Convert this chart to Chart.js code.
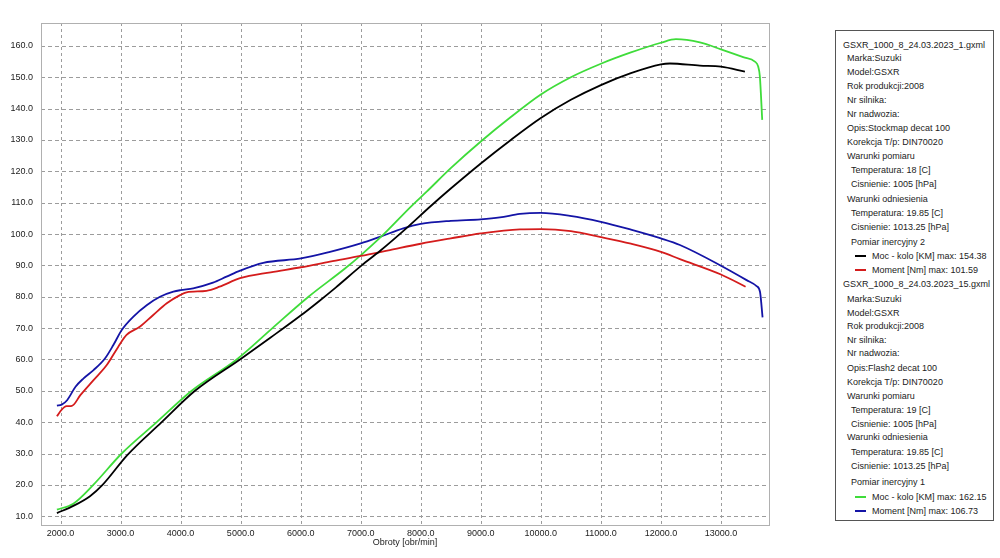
<!DOCTYPE html>
<html>
<head>
<meta charset="utf-8">
<script src="https://cdn.jsdelivr.net/npm/chart.js@4"></script>
<style>
  html, body { margin:0; padding:0; background:#fff; }
  body { width:1000px; height:558px; position:relative; overflow:hidden; font-family:"Liberation Sans", Arial, sans-serif; }
  #wrap { position:absolute; left:0; top:0; width:800px; height:558px; }
  #legend { position:absolute; left:835px; top:30px; width:159px; height:491px; border:1px solid #555; box-sizing:border-box; }
  .row { position:absolute; font-size:9px; color:#222; white-space:nowrap; line-height:12px; }
  .sw { position:absolute; height:2px; width:11px; }
</style>
</head>
<body>
<div id="wrap"><canvas id="c"></canvas></div>
<div id="legend"></div>
<script>
// ---- data ----
const xTicks = [2000,3000,4000,5000,6000,7000,8000,9000,10000,11000,12000,13000];
const yTicks = [10,20,30,40,50,60,70,80,90,100,110,120,130,140,150,160];

const rpmPower1 = [1940,2213,2491,2700,3112,3685,4240,4989,5500,6000,6300,6588,7016,7320,7787,8153,8500,9000,9500,10000,10500,11000,11500,12000,12150,12649,13000,13399];
const power1    = [11.0,13.3,16.4,20.0,29.5,40.0,50.0,60.0,67.0,74.0,78.5,83.0,90.0,94.6,102.3,108.7,114.5,122.5,130.0,137.0,142.8,147.5,151.3,154.1,154.38,153.7,153.4,151.8];

const rpmTorque1 = [1940,2020,2100,2190,2330,2550,2770,2960,3100,3320,3540,3770,3990,4100,4430,4650,4990,5500,6005,6488,7000,7487,8000,8500,9000,9651,10000,10500,11000,11500,12000,12316,13000,13410];
const torque1    = [41.9,44.0,45.1,45.2,48.6,53.4,58.2,64.0,67.8,70.4,74.1,77.9,80.5,81.4,81.9,83.2,85.9,87.8,89.4,91.2,93.0,94.9,96.9,98.6,100.2,101.5,101.59,100.9,99.0,96.9,94.3,92.0,87.1,83.2];

const rpmPower2 = [1940,2213,2546,3019,3602,4185,4934,5530,6130,6738,7000,7349,7849,8098,8500,9000,9500,10000,10500,11000,11500,12000,12250,12649,13000,13370,13565,13620,13648,13687];
const power2    = [12.1,14.0,20.0,30.0,40.0,50.0,60.0,70.0,80.0,89.0,93.2,99.3,109.0,113.5,121.0,129.5,137.3,144.5,150.0,154.3,157.9,161.0,162.15,161.1,158.9,156.4,155.0,153.4,150.2,136.4];

const rpmTorque2 = [1940,2020,2110,2250,2380,2550,2740,2880,3020,3210,3435,3657,3880,4000,4210,4540,4765,4990,5377,6005,6488,7000,7320,7709,8000,8500,9000,9318,9651,10000,10485,11000,11500,12000,12316,13000,13427,13593,13650,13693];
const torque2    = [45.3,45.6,47.0,51.3,53.9,56.6,60.3,64.6,69.4,73.6,77.3,80.0,81.6,82.1,82.7,84.5,86.4,88.3,90.8,92.2,94.3,97.0,99.1,101.8,103.2,104.2,104.7,105.3,106.4,106.73,105.8,103.9,101.4,98.6,96.5,89.9,85.3,83.4,81.6,73.4];

const legendRows = [
  [45,843,"GSXR_1000_8_24.03.2023_1.gxml"],
  [58,847,"Marka:Suzuki"],
  [72,847,"Model:GSXR"],
  [86,847,"Rok produkcji:2008"],
  [100,847,"Nr silnika:"],
  [114,847,"Nr nadwozia:"],
  [128,847,"Opis:Stockmap decat 100"],
  [142,847,"Korekcja T/p: DIN70020"],
  [156,847,"Warunki pomiaru"],
  [170,851,"Temperatura: 18 [C]"],
  [184,851,"Cisnienie: 1005 [hPa]"],
  [199,847,"Warunki odniesienia"],
  [213,851,"Temperatura: 19.85 [C]"],
  [227,851,"Cisnienie: 1013.25 [hPa]"],
  [242,851,"Pomiar inercyjny 2"],
  [256,872,"Moc - kolo [KM] max: 154.38","#000"],
  [270,872,"Moment [Nm] max: 101.59","#d41c1c"],
  [284,843,"GSXR_1000_8_24.03.2023_15.gxml"],
  [299,847,"Marka:Suzuki"],
  [313,847,"Model:GSXR"],
  [326,847,"Rok produkcji:2008"],
  [340,847,"Nr silnika:"],
  [353,847,"Nr nadwozia:"],
  [368,847,"Opis:Flash2 decat 100"],
  [382,847,"Korekcja T/p: DIN70020"],
  [396,847,"Warunki pomiaru"],
  [410,851,"Temperatura: 19 [C]"],
  [424,851,"Cisnienie: 1005 [hPa]"],
  [437,847,"Warunki odniesienia"],
  [452,851,"Temperatura: 19.85 [C]"],
  [466,851,"Cisnienie: 1013.25 [hPa]"],
  [482,851,"Pomiar inercyjny 1"],
  [497,872,"Moc - kolo [KM] max: 162.15","#3fdc3a"],
  [511,872,"Moment [Nm] max: 106.73","#1414a6"]
];

// ---- legend (HTML text) ----
const lg = document.getElementById('legend');
legendRows.forEach(r => {
  const d = document.createElement('div');
  d.className = 'row';
  d.textContent = r[2];
  d.style.left = (r[1] - 836) + 'px';
  d.style.top = (r[0] - 31 - 6) + 'px';
  lg.appendChild(d);
  if (r[3]) {
    const s = document.createElement('div');
    s.className = 'sw';
    s.style.background = r[3];
    s.style.left = (855 - 836) + 'px';
    s.style.top = (r[0] - 31 - 1) + 'px';
    lg.appendChild(s);
  }
});

// ---- chart ----
const pts = (xs, ys) => xs.map((x, i) => ({x, y: ys[i]}));

const gridFrame = {
  id: 'gridFrame',
  beforeDatasetsDraw(chart) {
    const {ctx, chartArea: a, scales: {x, y}} = chart;
    ctx.save();
    ctx.lineWidth = 1;
    ctx.strokeStyle = '#9c9c9c';
    ctx.setLineDash([4, 3]);
    yTicks.forEach(v => {
      const py = Math.round(y.getPixelForValue(v)) + 0.5;
      ctx.beginPath(); ctx.moveTo(a.left, py); ctx.lineTo(a.right, py); ctx.stroke();
    });
    ctx.setLineDash([3, 3]);
    xTicks.forEach(v => {
      const px = Math.round(x.getPixelForValue(v)) + 0.5;
      ctx.beginPath(); ctx.moveTo(px, a.top); ctx.lineTo(px, a.bottom); ctx.stroke();
    });
    ctx.setLineDash([]);
    ctx.strokeStyle = '#b0b0b0';
    ctx.strokeRect(Math.round(a.left) + 0.5, Math.round(a.top) + 0.5, Math.round(a.right - a.left), Math.round(a.bottom - a.top));
    ctx.restore();
  }
};

const lineDs = (label, data, color) => ({
  label, data, borderColor: color, backgroundColor: color,
  borderWidth: 1.8, pointRadius: 0, cubicInterpolationMode: 'monotone', fill: false
});

new Chart(document.getElementById('c'), {
  type: 'line',
  data: {
    datasets: [
      lineDs('Moc - kolo [KM] 1', pts(rpmPower1, power1), '#000000'),
      lineDs('Moment [Nm] 1', pts(rpmTorque1, torque1), '#d41c1c'),
      lineDs('Moc - kolo [KM] 2', pts(rpmPower2, power2), '#3fdc3a'),
      lineDs('Moment [Nm] 2', pts(rpmTorque2, torque2), '#1414a6')
    ]
  },
  options: {
    responsive: true,
    maintainAspectRatio: false,
    animation: false,
    layout: { padding: { left: 0, top: 23, right: 31, bottom: 0 } },
    plugins: { legend: { display: false }, tooltip: { enabled: false } },
    scales: {
      x: {
        type: 'linear', min: 1675, max: 13800,
        afterBuildTicks: s => { s.ticks = xTicks.map(v => ({value: v})); },
        afterFit: s => { s.height = 33; },
        grid: { display: false, drawTicks: false },
        border: { display: false },
        ticks: { padding: 3, color: '#222', font: { family: 'Liberation Sans', size: 9 }, maxRotation: 0, autoSkip: false, callback: v => Number(v).toFixed(1) },
        title: { display: true, text: 'Obroty [obr/min]', color: '#222', font: { family: 'Liberation Sans', size: 9 }, padding: { top: 0, bottom: 10 } }
      },
      y: {
        type: 'linear', min: 7.2, max: 167.3,
        afterBuildTicks: s => { s.ticks = yTicks.map(v => ({value: v})); },
        afterFit: s => { s.width = 41; },
        grid: { display: false, drawTicks: false },
        border: { display: false },
        ticks: { padding: 8, color: '#222', font: { family: 'Liberation Sans', size: 9 }, autoSkip: false, callback: v => Number(v).toFixed(1) }
      }
    }
  },
  plugins: [gridFrame]
});
</script>
</body>
</html>
